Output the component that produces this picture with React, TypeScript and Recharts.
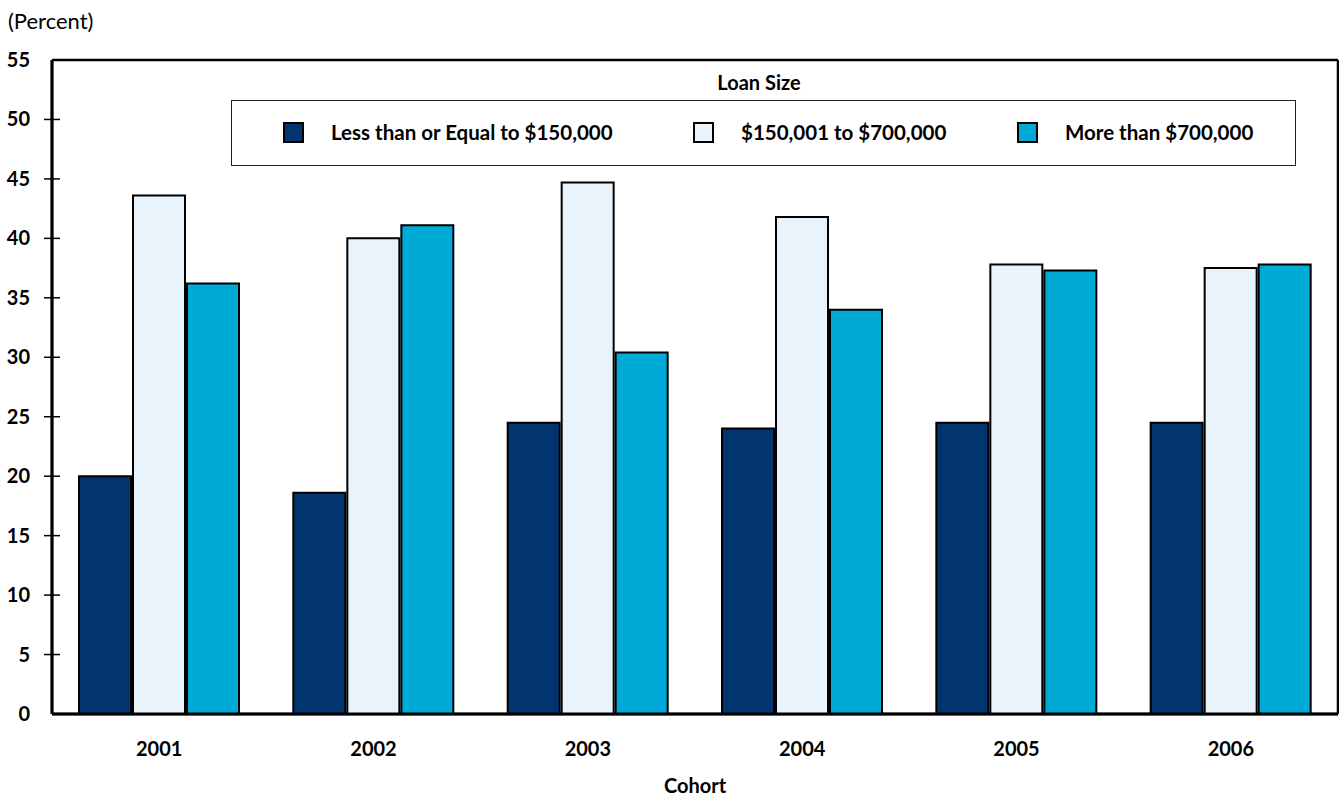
import { Bar, BarChart, CartesianGrid, Legend, XAxis, YAxis } from "recharts";

const cohorts = ["2001", "2002", "2003", "2004", "2005", "2006"];
const smallLoans = [20.0, 18.6, 24.5, 24.0, 24.5, 24.5];
const midLoans = [43.6, 40.0, 44.7, 41.8, 37.8, 37.5];
const largeLoans = [36.2, 41.1, 30.4, 34.0, 37.3, 37.8];
const yTicks = [0, 5, 10, 15, 20, 25, 30, 35, 40, 45, 50, 55];

const SERIES = [
  { key: "small", name: "Less than or Equal to $150,000", color: "#02356f" },
  { key: "mid", name: "$150,001 to $700,000", color: "#e8f3fc" },
  { key: "large", name: "More than $700,000", color: "#00aad6" },
];

const data = cohorts.map((c, i) => ({
  cohort: c,
  small: smallLoans[i],
  mid: midLoans[i],
  large: largeLoans[i],
}));

const FONT = "Lato, 'Open Sans', sans-serif";

function YTick(props: any) {
  const { x, y, payload } = props;
  const v = payload.value;
  return (
    <g>
      <text
        x={x - 14}
        y={y}
        dy={7}
        textAnchor="end"
        fontFamily={FONT}
        fontWeight={700}
        fontSize={20}
        fill="#000"
      >
        {v}
      </text>
      {v !== 0 && v !== 55 && (
        <line x1={x} x2={x + 16} y1={y} y2={y} stroke="#000" strokeWidth={1.5} />
      )}
    </g>
  );
}

function XTick(props: any) {
  const { x, y, payload } = props;
  return (
    <text
      x={x}
      y={y + 34}
      textAnchor="middle"
      fontFamily={FONT}
      fontWeight={700}
      fontSize={20}
      fill="#000"
    >
      {payload.value}
    </text>
  );
}

function LoanLegend() {
  const left = [283, 693, 1017];
  return (
    <div style={{ position: "relative", width: 1339, height: 100, fontFamily: FONT }}>
      <div
        style={{
          position: "absolute",
          left: 631,
          width: 256,
          top: 0,
          textAlign: "center",
          fontWeight: 700,
          fontSize: 20,
        }}
      >
        Loan Size
      </div>
      <div
        style={{
          position: "absolute",
          left: 231,
          top: 30,
          width: 1063,
          height: 64,
          border: "1.5px solid #222",
          background: "#fff",
        }}
      />
      {SERIES.map((s, i) => (
        <div
          key={s.key}
          style={{
            position: "absolute",
            left: left[i],
            top: 50,
            display: "flex",
            alignItems: "center",
            fontWeight: 700,
            fontSize: 20.5,
            whiteSpace: "nowrap",
          }}
        >
          <span
            style={{
              display: "inline-block",
              width: 17,
              height: 17,
              background: s.color,
              border: "2px solid #000",
              marginRight: 27,
            }}
          />
          {s.name}
        </div>
      ))}
    </div>
  );
}

export default function App() {
  return (
    <div
      style={{
        position: "absolute",
        left: 0,
        top: 0,
        width: 1339,
        height: 797,
        background: "#fff",
      }}
    >
      <div
        style={{
          position: "absolute",
          left: 8,
          top: 7,
          fontFamily: FONT,
          fontSize: 22,
          color: "#000",
        }}
      >
        (Percent)
      </div>
      <BarChart
        width={1339}
        height={797}
        data={data}
        margin={{ top: 60, right: 1, bottom: 0, left: 0 }}
        barCategoryGap={27}
        barGap={2}
      >
        <CartesianGrid
          stroke="#000"
          strokeWidth={2.5}
          horizontalCoordinatesGenerator={({ offset }: any) => [
            offset.top,
            offset.top + offset.height,
          ]}
          verticalCoordinatesGenerator={({ offset }: any) => [
            offset.left,
            offset.left + offset.width,
          ]}
        />
        <XAxis
          dataKey="cohort"
          height={83}
          tick={<XTick />}
          tickLine={false}
          axisLine={{ stroke: "#000", strokeWidth: 3 }}
          interval={0}
          label={{
            value: "Cohort",
            position: "insideBottom",
            offset: 4,
            fontFamily: FONT,
            fontWeight: 700,
            fontSize: 20,
            fill: "#000",
          }}
        />
        <YAxis
          width={52}
          domain={[0, 55]}
          ticks={yTicks}
          interval={0}
          tick={<YTick />}
          tickLine={false}
          axisLine={{ stroke: "#000", strokeWidth: 3 }}
        />
        <Legend
          verticalAlign="middle"
          align="center"
          layout="horizontal"
          content={<LoanLegend />}
          wrapperStyle={{ top: 70, left: 0, width: 1339 }}
        />
        {SERIES.map((s) => (
          <Bar
            key={s.key}
            dataKey={s.key}
            name={s.name}
            fill={s.color}
            stroke="#000"
            strokeWidth={2}
            isAnimationActive={false}
          />
        ))}
      </BarChart>
    </div>
  );
}
